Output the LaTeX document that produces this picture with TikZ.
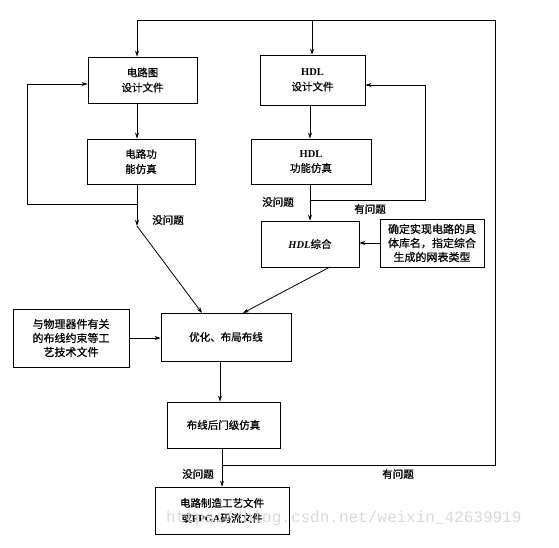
\documentclass[tikz,border=0pt]{standalone}
\usepackage{fontspec}
\setmainfont{Liberation Serif}
\newfontfamily\cjk{Noto Sans CJK SC}[FakeBold=0.8]
\newfontfamily\wmfont{Liberation Mono}
\usetikzlibrary{arrows.meta}
\begin{document}
\begin{tikzpicture}[x=1pt,y=-1pt,
  box/.style={draw,line width=0.9pt,align=center,inner sep=1pt,font=\cjk\fontsize{10.5}{15}\selectfont},
  sidebox/.style={box,font=\cjk\fontsize{11}{14}\selectfont},
  lbl/.style={font=\cjk\fontsize{10.5}{12}\selectfont,inner sep=0pt},
  arr/.style={line width=0.8pt,-{Stealth[length=6pt,width=4pt]}},
  ln/.style={line width=0.8pt}]
\useasboundingbox (0,0) rectangle (559,547);
% nodes
\node[box,minimum width=109pt,minimum height=46pt] (b1) at (142.5,80) {电路图\\设计文件};
\node[box,minimum width=105pt,minimum height=50pt] (b2) at (312.5,80) {{\rmfamily\bfseries HDL}\\设计文件};
\node[box,minimum width=108pt,minimum height=45pt] (b3) at (141,161.5) {电路功\\能仿真};
\node[box,minimum width=120pt,minimum height=45pt] (b4) at (311,161.5) {{\rmfamily\bfseries HDL}\\功能仿真};
\node[box,minimum width=98pt,minimum height=46pt] (b5) at (310,244) {{\rmfamily\bfseries\itshape HDL}综合};
\node[sidebox,minimum width=104pt,minimum height=48pt] (b6) at (432,243) {确定实现电路的具\\体库名，指定综合\\生成的网表类型};
\node[box,minimum width=130pt,minimum height=48pt] (b7) at (226,337) {优化、布局布线};
\node[sidebox,minimum width=116pt,minimum height=58pt] (b8) at (71,338) {与物理器件有关\\的布线约束等工\\艺技术文件};
\node[box,minimum width=113pt,minimum height=46pt] (b9) at (223.5,425) {布线后门级仿真};
\node[box,minimum width=134pt,minimum height=47pt] (b10) at (222,510.5) {电路制造工艺文件\\或{\rmfamily\bfseries FPGA}码流文件};
% coordinates
\coordinate (xl) at (137,0);
\coordinate (xr) at (310,0);
\coordinate (tl) at (137,20);
\coordinate (tm) at (312,20);
\coordinate (tr) at (495,20);
\coordinate (br) at (495,465);
\coordinate (j9) at (222,465);
\coordinate (j3) at (137,204);
\coordinate (l1) at (27,204);
\coordinate (l2) at (27,84);
\coordinate (p3) at (137,226);
\coordinate (j4) at (310,200);
\coordinate (r1) at (425,200);
\coordinate (r2) at (425,85);
\coordinate (t7a) at (202,313);
\coordinate (t7b) at (243,313);
\coordinate (s5) at (330,267);
% connectors
\draw[arr] (j9) -- (br) -- (tr) -- (tl) -- (tl |- b1.north);
\draw[arr] (tm) -- (tm |- b2.north);
\draw[arr] (b1.south -| xl) -- (b3.north -| xl);
\draw[arr] (b3.south -| xl) -- (p3);
\draw[arr] (j3) -- (l1) -- (l2) -- (l2 -| b1.west);
\draw[arr] (p3) -- (t7a);
\draw[arr] (b2.south -| xr) -- (b4.north -| xr);
\draw[arr] (b4.south -| xr) -- (b5.north -| xr);
\draw[arr] (j4) -- (r1) -- (r2) -- (r2 -| b2.east);
\draw[arr] (b6.west) -- (b6.west -| b5.east);
\draw[arr] (s5) -- (t7b);
\draw[arr] (b8.east) -- (b8.east -| b7.west);
\draw[arr] (b7.south -| 220,0) -- (b9.north -| 220,0);
\draw[arr] (b9.south -| j9) -- (b10.north -| j9);
% labels
\node[lbl] (n1) at (168,220) {没问题};
\node[lbl] (n2) at (278,202) {没问题};
\node[lbl] (n3) at (370,209) {有问题};
\node[lbl] (n4) at (198,474) {没问题};
\node[lbl] (n5) at (398,474) {有问题};
% watermark
\node[font=\wmfont\fontsize{16}{16}\selectfont,text=gray!30,inner sep=0pt,anchor=west] (wm) at (166,518) {https://blog.csdn.net/weixin\_42639919};
\end{tikzpicture}
\end{document}
